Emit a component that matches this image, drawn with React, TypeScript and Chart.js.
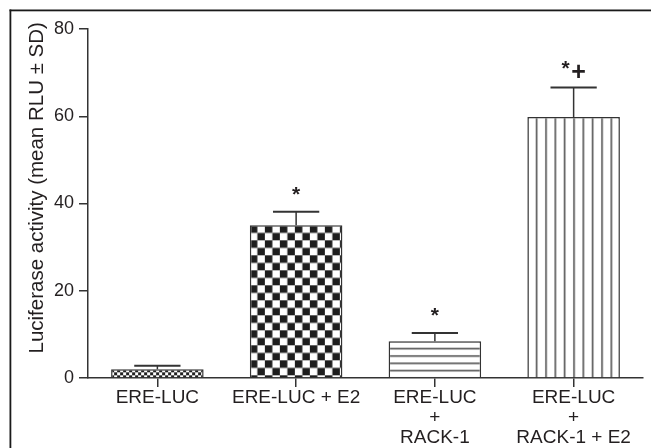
import React, { useEffect, useRef } from "react";
import { Chart, registerables } from "chart.js";

Chart.register(...registerables);

const categories: string[][] = [
  ["ERE-LUC"],
  ["ERE-LUC + E2"],
  ["ERE-LUC", "+", "RACK-1"],
  ["ERE-LUC", "+", "RACK-1 + E2"],
];
const means: number[] = [2.0, 35.0, 8.4, 59.8];
const sds: number[] = [0.8, 3.1, 1.9, 6.8];
const markers: string[] = ["", "*", "*", "*+"];
const yTicks: number[] = [0, 20, 40, 60, 80];
const yTitle = "Luciferase activity (mean RLU \u00b1 SD)";

const INK = "#231f20";
const LINE = "#333333";
const FONT = "'Liberation Sans', Arial, Helvetica, sans-serif";

function tile(w: number, h: number, draw: (c: CanvasRenderingContext2D) => void) {
  const cv = document.createElement("canvas");
  cv.width = w;
  cv.height = h;
  const c = cv.getContext("2d")!;
  c.fillStyle = "#ffffff";
  c.fillRect(0, 0, w, h);
  draw(c);
  return cv;
}

function makePatterns(ctx: CanvasRenderingContext2D): CanvasPattern[] {
  const small = tile(6, 6, (c) => {
    c.fillStyle = "#222";
    c.fillRect(0, 0, 3, 3);
    c.fillRect(3, 3, 3, 3);
  });
  const checker = tile(15, 15, (c) => {
    c.fillStyle = "#1e1e1e";
    c.fillRect(0, 0, 7.5, 7.5);
    c.fillRect(7.5, 7.5, 7.5, 7.5);
  });
  const horiz = tile(10, 22, (c) => {
    c.fillStyle = "#3a3a3a";
    [0, 22 / 3, 44 / 3].forEach((y) => c.fillRect(0, y - 0.7, 10, 1.4));
    c.fillRect(0, 22 - 0.7, 10, 0.7);
  });
  const vert = tile(28, 10, (c) => {
    c.fillStyle = "#3a3a3a";
    [0, 28 / 3, 56 / 3].forEach((x) => c.fillRect(x - 0.7, 0, 1.4, 10));
    c.fillRect(28 - 0.7, 0, 0.7, 10);
  });
  return [small, checker, horiz, vert].map((cv) => ctx.createPattern(cv, "repeat")!);
}

const framePlugin = {
  id: "frame",
  beforeDraw(chart: any) {
    const c = chart.ctx;
    c.save();
    c.fillStyle = "#ffffff";
    c.fillRect(0, 0, chart.width, chart.height);
    c.fillStyle = "#1a1a1a";
    c.fillRect(9.5, 9.5, chart.width, 1.8);
    c.fillRect(9.5, 9.5, 1.8, chart.height);
    c.restore();
  },
};

const alignPlugin = {
  id: "alignPatterns",
  beforeDatasetsDraw(chart: any) {
    const meta = chart.getDatasetMeta(0);
    meta.data.forEach((bar: any) => {
      const bg = bar.options.backgroundColor;
      if (bg && typeof bg.setTransform === "function") {
        const left = bar.x - bar.width / 2;
        bg.setTransform(new DOMMatrix([1, 0, 0, 1, left, bar.y]));
      }
    });
  },
};

const errorPlugin = {
  id: "errorBars",
  afterDatasetsDraw(chart: any) {
    const c = chart.ctx;
    const y = chart.scales.y;
    const meta = chart.getDatasetMeta(0);
    c.save();
    meta.data.forEach((bar: any, i: number) => {
      const top = y.getPixelForValue(means[i]);
      const cap = y.getPixelForValue(means[i] + sds[i]);
      const half = bar.width / 4;
      c.strokeStyle = LINE;
      c.lineWidth = 1.5;
      c.beginPath();
      c.moveTo(bar.x, top);
      c.lineTo(bar.x, cap);
      c.stroke();
      c.lineWidth = 2;
      c.beginPath();
      c.moveTo(bar.x - half, cap);
      c.lineTo(bar.x + half, cap);
      c.stroke();

      const m = markers[i];
      c.fillStyle = INK;
      c.textAlign = "center";
      c.textBaseline = "alphabetic";
      if (m === "*") {
        c.font = `bold 21px ${FONT}`;
        c.fillText("*", bar.x, cap - 23 + 12);
      } else if (m === "*+") {
        c.font = `bold 21px ${FONT}`;
        c.fillText("*", bar.x - 8, cap - 24 + 12);
        c.font = `bold 25px ${FONT}`;
        c.fillText("+", bar.x + 5, cap - 16 + 8.5);
      }
    });
    c.restore();
  },
};

const titlePlugin = {
  id: "yTitle",
  afterDraw(chart: any) {
    const c = chart.ctx;
    const area = chart.chartArea;
    c.save();
    c.translate(37, area.top + (area.bottom - area.top) * 0.455);
    c.rotate(-Math.PI / 2);
    c.fillStyle = INK;
    c.font = `20.5px ${FONT}`;
    c.textAlign = "center";
    c.textBaseline = "middle";
    c.fillText(yTitle, 0, 0);
    c.restore();
  },
};

export default function App() {
  const ref = useRef<HTMLCanvasElement>(null);
  useEffect(() => {
    const canvas = ref.current!;
    const ctx = canvas.getContext("2d")!;
    const patterns = makePatterns(ctx);
    const chart = new Chart(ctx, {
      type: "bar",
      data: {
        labels: categories,
        datasets: [
          {
            data: means,
            backgroundColor: patterns,
            borderColor: LINE,
            borderWidth: 1.5,
            categoryPercentage: 1,
            barPercentage: 0.667,
          },
        ],
      },
      options: {
        animation: false,
        responsive: false,
        maintainAspectRatio: false,
        devicePixelRatio: 1,
        layout: { padding: { left: 0, top: 29, right: 8, bottom: 0 } },
        plugins: { legend: { display: false }, tooltip: { enabled: false }, title: { display: false } },
        scales: {
          x: {
            type: "category",
            offset: true,
            afterFit: (s: any) => {
              s.height = 70;
            },
            grid: {
              display: true,
              drawOnChartArea: false,
              offset: false,
              tickLength: 9,
              color: LINE,
              lineWidth: 1.5,
            },
            border: { display: true, color: LINE, width: 1.5 },
            ticks: {
              color: INK,
              font: { family: FONT, size: 19, lineHeight: 1.05 },
              padding: 1,
              maxRotation: 0,
              autoSkip: false,
            },
          },
          y: {
            min: 0,
            max: 80,
            afterFit: (s: any) => {
              s.width = 88;
            },
            afterBuildTicks: (s: any) => {
              s.ticks = yTicks.map((v) => ({ value: v }));
            },
            grid: {
              display: true,
              drawOnChartArea: false,
              tickLength: 9,
              color: LINE,
              lineWidth: 1.5,
            },
            border: { display: true, color: LINE, width: 1.5 },
            ticks: {
              color: INK,
              font: { family: FONT, size: 18 },
              padding: 5,
            },
          },
        },
      },
      plugins: [framePlugin, alignPlugin, errorPlugin, titlePlugin],
    });
    return () => chart.destroy();
  }, []);
  return (
    <canvas
      ref={ref}
      width={651}
      height={448}
      style={{ position: "fixed", left: 0, top: 0, width: 651, height: 448 }}
    />
  );
}
